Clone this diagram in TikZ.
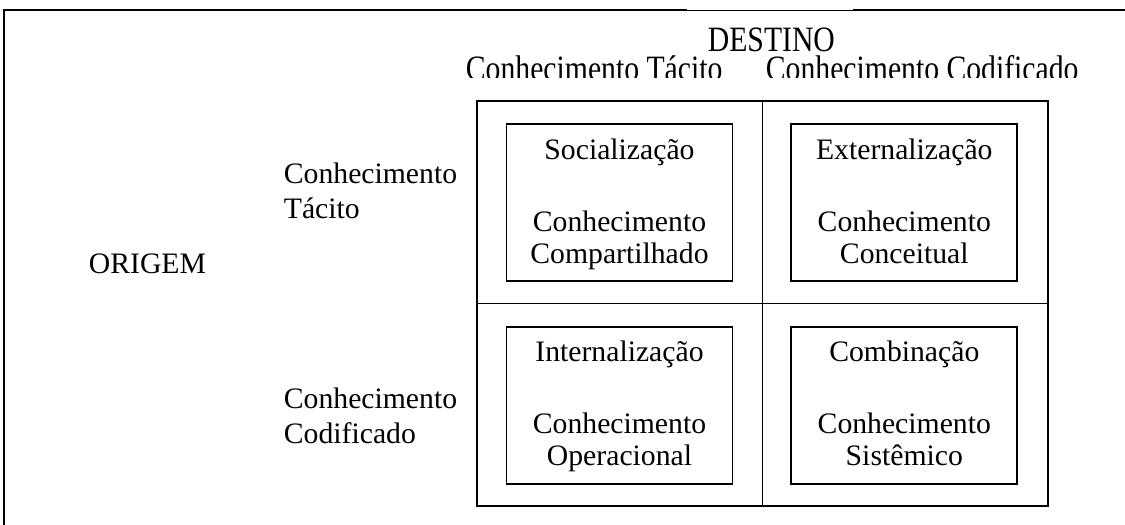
\documentclass[tikz,border=0pt]{standalone}
\usepackage{fontspec}
\setmainfont{Liberation Serif}
\usepackage{tikz}
\usetikzlibrary{positioning}

\newcommand{\tall}[1]{\scalebox{1}[1.2]{#1}}

\begin{document}
\begin{tikzpicture}[x=1pt,y=-1pt,line width=1.8pt,
  every node/.style={inner sep=0pt,font=\fontsize{29.7}{32}\selectfont},
  quad/.style={draw,minimum width=226pt,minimum height=157pt,align=center,
    text height=127pt,text depth=6pt},
  side/.style={align=left,anchor=base west,font=\fontsize{29.7}{35}\selectfont},
  head/.style={anchor=base west}]
\useasboundingbox (0,0) rectangle (1125,525);

% moldura
\draw (4,525) -- (4,10) -- (687,10);
\draw[line width=0.7pt] (687,10) -- (853,10);
\draw (853,10) -- (1125,10);

% destino
\node[head] (destino) at (707,51) {\tall{DESTINO}};
\begin{scope}
  \clip (0,0) rectangle (1125,77);
  \node[head] (tac) at (465,80) {\tall{Conhecimento Tácito}};
  \node[head] (cod) at (765,80) {\tall{Conhecimento Codificado}};
\end{scope}

% origem
\node[head] (origem) at (88,273) {ORIGEM};
\node[side] (rtac) at (283,218) {Conhecimento\\Tácito};
\node[side] (rcod) at (283,443) {Conhecimento\\Codificado};

% matriz
\node[draw,minimum width=571pt,minimum height=405pt] (grid) at (762.5,303.5) {};
\draw (grid.north) -- (grid.south);
\draw (grid.west) -- (grid.east);

\node[quad] (soc) at (619.5,202.5) {Socialização\\[40pt]Conhecimento\\Compartilhado};
\node[quad] (ext) [right=57pt of soc] {Externalização\\[40pt]Conhecimento\\Conceitual};
\node[quad] (int) [below=44pt of soc] {Internalização\\[40pt]Conhecimento\\Operacional};
\node[quad] (comb) [below=44pt of ext] {Combinação\\[40pt]Conhecimento\\Sistêmico};
\end{tikzpicture}
\end{document}
